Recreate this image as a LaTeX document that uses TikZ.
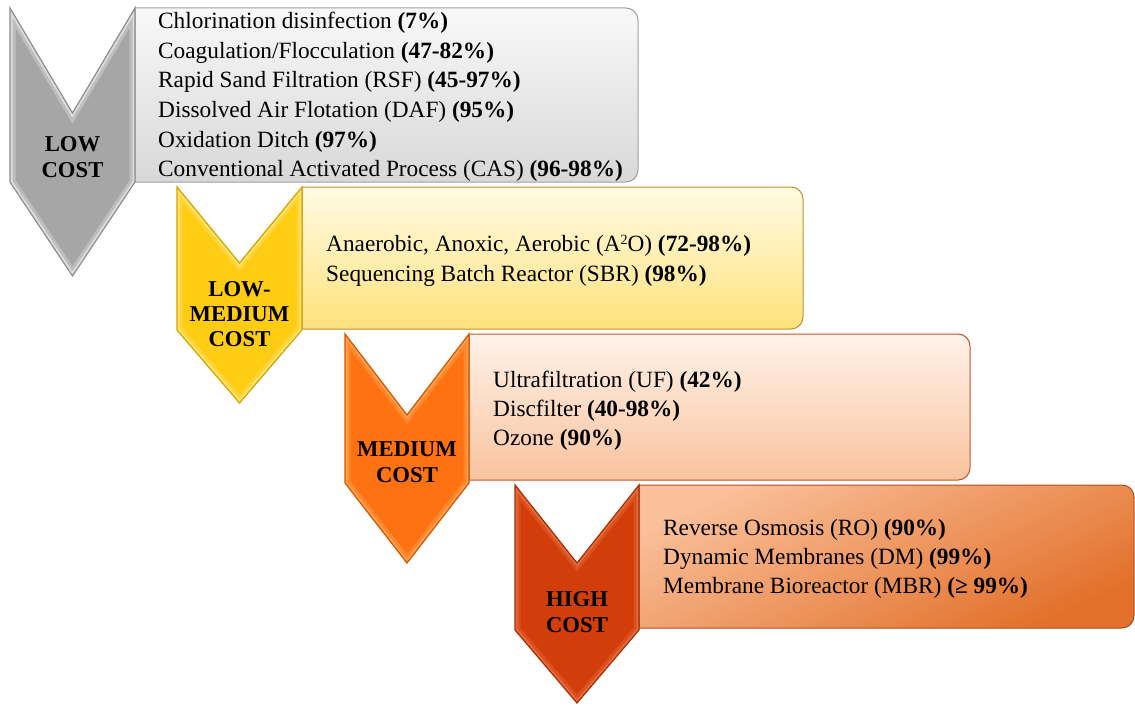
\documentclass[tikz,border=0pt]{standalone}
\usepackage{fontspec}
\setmainfont{Liberation Serif}
\definecolor{grayFace}{HTML}{A6A6A6}
\definecolor{grayMid}{HTML}{BDBDBD}
\definecolor{grayLight}{HTML}{DCDCDC}
\definecolor{grayEdge}{HTML}{8E8E8E}
\definecolor{yelFace}{HTML}{FFCC14}
\definecolor{yelMid}{HTML}{FFD63A}
\definecolor{yelLight}{HTML}{FFE36C}
\definecolor{yelEdge}{HTML}{D6A000}
\definecolor{oraFace}{HTML}{FF7212}
\definecolor{oraMid}{HTML}{FF872C}
\definecolor{oraLight}{HTML}{FFA050}
\definecolor{oraEdge}{HTML}{D05600}
\definecolor{redFace}{HTML}{D13E0A}
\definecolor{redMid}{HTML}{DA501E}
\definecolor{redLight}{HTML}{E66A3A}
\definecolor{redEdge}{HTML}{A52E08}
\definecolor{gbTop}{HTML}{F8F8F8}
\definecolor{gbBot}{HTML}{D8D8D8}
\definecolor{gbEdge}{HTML}{A0A0A0}
\definecolor{ybTop}{HTML}{FFFBE4}
\definecolor{ybBot}{HTML}{FFE27C}
\definecolor{ybEdge}{HTML}{C3902E}
\definecolor{obTop}{HTML}{FFF2E9}
\definecolor{obBot}{HTML}{F9C39E}
\definecolor{obEdge}{HTML}{C2542A}
\definecolor{rbTop}{HTML}{FAC09A}
\definecolor{rbBot}{HTML}{E2702A}
\definecolor{rbEdge}{HTML}{B04C1C}
\newcommand\mychev[7]{%
  \pgfmathsetmacro\cxm{(#1+#3)/2}%
  \pgfmathsetmacro\cyn{#2+#4}%
  \pgfmathsetmacro\cys{#2+#5}%
  \pgfmathsetmacro\cyh{#2+#6}%
  \begin{scope}
    \clip (#1,#2) -- (\cxm,\cyn) -- (#3,#2) -- (#3,\cys) -- (\cxm,\cyh) -- (#1,\cys) -- cycle;
    \fill[#7Face] (#1,#2) rectangle (#3,\cyh);
    \draw[#7Mid, line width=11] (#1,#2) -- (\cxm,\cyn) -- (#3,#2) -- (#3,\cys) -- (\cxm,\cyh) -- (#1,\cys) -- cycle;
    \draw[#7Light, line width=5] (#1,#2) -- (\cxm,\cyn) -- (#3,#2) -- (#3,\cys) -- (\cxm,\cyh) -- (#1,\cys) -- cycle;
  \end{scope}
  \draw[#7Edge, line width=1.2, line join=miter] (#1,#2) -- (\cxm,\cyn) -- (#3,#2) -- (#3,\cys) -- (\cxm,\cyh) -- (#1,\cys) -- cycle;
}
\newcommand\supnum[1]{\raisebox{7.5pt}{\fontsize{14}{14}\selectfont #1}}
\tikzset{
  txt/.style={anchor=base west, inner sep=0pt, font=\fontsize{23.3}{28}\selectfont},
  lab/.style={anchor=base, inner sep=0pt, font=\fontsize{22.7}{26}\selectfont\bfseries},
  boxline/.style={line width=1}
}
\begin{document}
\begin{tikzpicture}[x=1pt,y=-1pt]
\useasboundingbox (0,0) rectangle (1135,706);
% boxes
\path[boxline, draw=gbEdge, top color=gbTop, bottom color=gbBot]
  (135,8) [rounded corners=12] -- (638,8) -- (638,182) [sharp corners] -- (135,182) -- cycle;
\path[boxline, draw=ybEdge, top color=ybTop, bottom color=ybBot]
  (302,187) [rounded corners=12] -- (803,187) -- (803,329) [sharp corners] -- (302,329) -- cycle;
\path[boxline, draw=obEdge, top color=obTop, bottom color=obBot]
  (469,334) [rounded corners=12] -- (970,334) -- (970,480) [sharp corners] -- (469,480) -- cycle;
\path[boxline, draw=rbEdge, top color=rbTop, bottom color=rbBot, shading angle=25]
  (639,485) [rounded corners=12] -- (1134,485) -- (1134,628) [sharp corners] -- (639,628) -- cycle;
% chevrons
\mychev{10}{8}{135}{105}{174}{268}{gray}
\mychev{177}{187}{302}{76}{143}{216}{yel}
\mychev{345}{334}{469}{81}{149}{229}{ora}
\mychev{515}{485}{639}{78}{145}{218}{red}
% chevron labels
\node[lab] (l1a) at (72.5,151.5) {LOW};
\node[lab] (l1b) at (72.5,177) {COST};
\node[lab] (l2a) at (239.5,296) {LOW-};
\node[lab] (l2b) at (239.5,321.5) {MEDIUM};
\node[lab] (l2c) at (239.5,346.5) {COST};
\node[lab] (l3a) at (407,456.5) {MEDIUM};
\node[lab] (l3b) at (407,482) {COST};
\node[lab] (l4a) at (577,606.5) {HIGH};
\node[lab] (l4b) at (577,632) {COST};
% box texts
\foreach \t [count=\i] in {
  {Chlorination disinfection \textbf{(7\%)}},
  {Coagulation/Flocculation \textbf{(47-82\%)}},
  {Rapid Sand Filtration (RSF) \textbf{(45-97\%)}},
  {Dissolved Air Flotation (DAF) \textbf{(95\%)}},
  {Oxidation Ditch \textbf{(97\%)}},
  {Conventional Activated Process (CAS) \textbf{(96-98\%)}}}
  \node[txt] (g\i) at (158,{29+29.5*(\i-1)}) {\t};
\foreach \t [count=\i] in {
  {Anaerobic, Anoxic, Aerobic (A\supnum{2}O) \textbf{(72-98\%)}},
  {Sequencing Batch Reactor (SBR) \textbf{(98\%)}}}
  \node[txt] (y\i) at (326,{251.5+29.5*(\i-1)}) {\t};
\foreach \t [count=\i] in {
  {Ultrafiltration (UF) \textbf{(42\%)}},
  {Discfilter \textbf{(40-98\%)}},
  {Ozone \textbf{(90\%)}}}
  \node[txt] (o\i) at (493,{387+29*(\i-1)}) {\t};
\foreach \t [count=\i] in {
  {Reverse Osmosis (RO) \textbf{(90\%)}},
  {Dynamic Membranes (DM) \textbf{(99\%)}},
  {Membrane Bioreactor (MBR) \textbf{(≥ 99\%)}}}
  \node[txt] (r\i) at (663,{535+29*(\i-1)}) {\t};
\end{tikzpicture}
\end{document}
